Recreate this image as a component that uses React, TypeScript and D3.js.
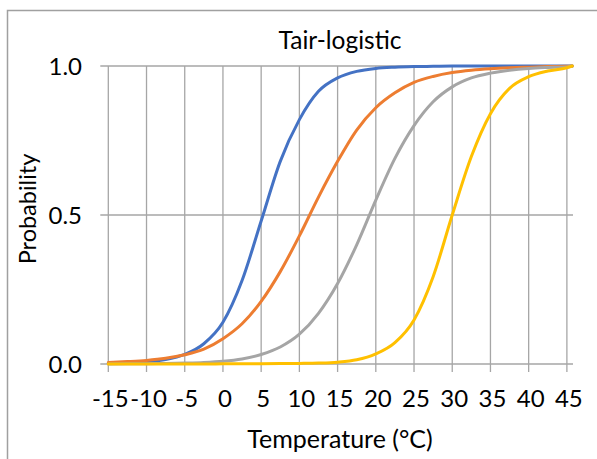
import React from "react";
import * as d3 from "d3";

const temps = [-15, -12.5, -10, -7.5, -5, -2.5, 0, 2.5, 5, 7.5, 10, 12.5, 15, 17.5, 20, 22.5, 25, 27.5, 30, 32.5, 35, 37.5, 40, 42.5, 45, 45.7];
const blue = [0.002, 0.004, 0.008, 0.015, 0.032, 0.068, 0.14, 0.28, 0.48, 0.68, 0.82, 0.915, 0.96, 0.982, 0.992, 0.996, 0.998, 0.999, 1.0, 1.0, 1.0, 1.0, 1.0, 1.0, 1.0, 1.0];
const orange = [0.005, 0.008, 0.012, 0.019, 0.031, 0.05, 0.085, 0.135, 0.21, 0.31, 0.43, 0.56, 0.68, 0.785, 0.86, 0.91, 0.945, 0.965, 0.978, 0.986, 0.991, 0.994, 0.996, 0.998, 0.999, 1.0];
const gray = [0.0003, 0.0005, 0.001, 0.0017, 0.003, 0.005, 0.009, 0.017, 0.032, 0.057, 0.1, 0.17, 0.27, 0.4, 0.55, 0.69, 0.8, 0.88, 0.93, 0.96, 0.976, 0.986, 0.992, 0.995, 0.997, 1.0];
const yellow = [0.0, 0.0, 0.0, 0.0, 0.0, 0.0, 0.0005, 0.0008, 0.001, 0.0015, 0.002, 0.003, 0.006, 0.014, 0.034, 0.072, 0.148, 0.293, 0.5, 0.696, 0.84, 0.925, 0.964, 0.983, 0.994, 1.0];

const xTicks = [-15, -10, -5, 0, 5, 10, 15, 20, 25, 30, 35, 40, 45];
const yTicks = [0, 0.5, 1.0];
const seriesList = [
  { name: "s1", values: blue, color: "#4472C4" },
  { name: "s2", values: orange, color: "#ED7D31" },
  { name: "s3", values: gray, color: "#A5A5A5" },
  { name: "s4", values: yellow, color: "#FFC000" },
];

const W = 597;
const H = 459;
const FONT = "Lato, 'Open Sans', sans-serif";

export default function App() {
  const x = d3.scaleLinear().domain([-15, 45.8]).range([108.3, 573]);
  const y = d3.scaleLinear().domain([0, 1]).range([364, 66]);
  const line = d3
    .line<number>()
    .x((_, i) => x(temps[i]))
    .y((d) => y(d))
    .curve(d3.curveMonotoneX);
  const grid = "#a6a6a6";
  const tickFs = 24;
  return (
    <svg
      width={W}
      height={H}
      style={{ position: "fixed", left: 0, top: 0, background: "#fff" }}
    >
      <rect x={7.5} y={10.5} width={W + 10} height={H + 10} fill="#fff" stroke="#a0a0a0" strokeWidth={1.5} />
      <text x={340} y={49} textAnchor="middle" fontFamily={FONT} fontSize={24.5} fill="#000">
        Tair-logistic
      </text>
      {xTicks.map((t) => (
        <line key={"vx" + t} x1={x(t)} x2={x(t)} y1={y(1)} y2={y(0) + 8} stroke={grid} strokeWidth={1.3} />
      ))}
      {yTicks.map((t) => (
        <line key={"hy" + t} x1={x(-15) - 8} x2={x(45.8)} y1={y(t)} y2={y(t)} stroke={grid} strokeWidth={1.3} />
      ))}
      {xTicks.map((t) => (
        <text key={"xl" + t} x={x(t) + 2} y={406.5} textAnchor="middle" fontFamily={FONT} fontSize={tickFs} fill="#000">
          {t}
        </text>
      ))}
      {yTicks.map((t) => (
        <text key={"yl" + t} x={82} y={y(t) + 8.5} textAnchor="end" fontFamily={FONT} fontSize={tickFs} fill="#000">
          {t.toFixed(1)}
        </text>
      ))}
      <text x={340} y={447.5} textAnchor="middle" fontFamily={FONT} fontSize={25} fill="#000">
        Temperature (°C)
      </text>
      <text transform={`translate(36,209) rotate(-90)`} textAnchor="middle" fontFamily={FONT} fontSize={23.5} fill="#000">
        Probability
      </text>
      {seriesList.map((s) => (
        <path key={s.name} d={line(s.values) || ""} fill="none" stroke={s.color} strokeWidth={3} strokeLinecap="round" strokeLinejoin="round" />
      ))}
    </svg>
  );
}
